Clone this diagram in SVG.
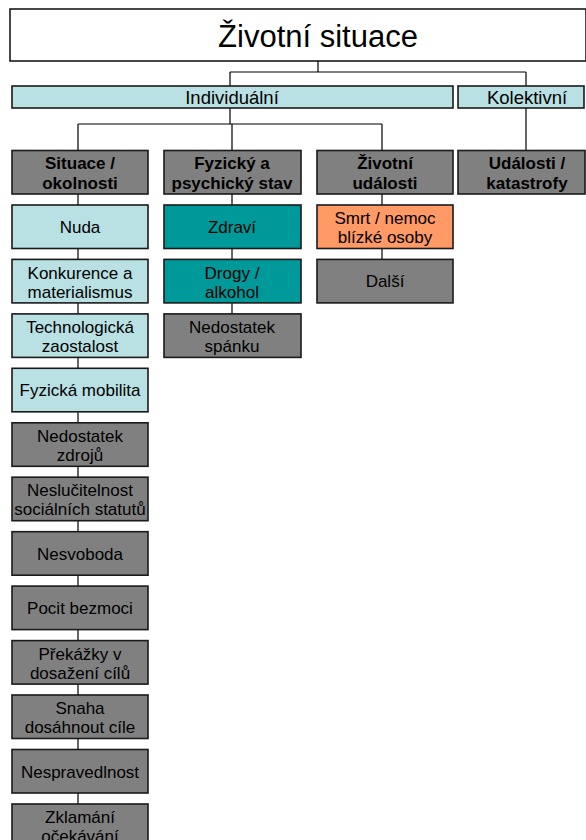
<svg xmlns="http://www.w3.org/2000/svg" width="586" height="840" viewBox="0 0 586 840">
  <style>
    .box { stroke: #1a1a1a; stroke-width: 1.6; }
    .white { fill: #ffffff; }
    .light { fill: #b9e0e2; }
    .gray { fill: #808080; }
    .teal { fill: #009999; }
    .orange { fill: #ff9966; }
    text { font-family: "Liberation Sans", Arial, sans-serif; fill: #000000; text-anchor: middle; }
    .t { font-size: 17px; }
    .b { font-size: 17px; font-weight: bold; }
    .m { font-size: 18.5px; }
    .big { font-size: 31px; }
    .lines { stroke: #000000; stroke-width: 1.2; fill: none; }
  </style>

  <!-- connectors -->
  <g id="connectors" class="lines">
    <path d="M318 61 V72 M230 72 H526 M230 72 V86 M526 72 V86"/>
    <path d="M230 108 V124 M78 124 H382 M78 124 V150 M232 124 V150 M382 124 V150"/>
    <path d="M526 108 V150"/>
    <!-- column 1 chain -->
    <path d="M78 194 V205 M78 248 V259 M78 303 V314 M78 357 V368 M78 412 V423 M78 466 V477 M78 521 V532 M78 575 V586 M78 630 V641 M78 684 V695 M78 739 V750 M78 793 V804"/>
    <!-- column 2 chain -->
    <path d="M232 194 V205 M232 248 V259 M232 303 V314"/>
    <!-- column 3 chain -->
    <path d="M382 194 V205 M382 248 V259"/>
  </g>

  <!-- root -->
  <g id="root">
    <rect class="box white" x="10" y="9" width="576" height="52"/>
    <text class="big" x="318" y="47">Životní situace</text>
  </g>

  <!-- second level -->
  <g id="individualni">
    <rect class="box light" x="12" y="86" width="441" height="22"/>
    <text class="m" x="232" y="104">Individuální</text>
  </g>
  <g id="kolektivni">
    <rect class="box light" x="458" y="86" width="126" height="22"/>
    <text class="m" x="527" y="104">Kolektivní</text>
  </g>

  <!-- headers -->
  <g id="situace">
    <rect class="box gray" x="12" y="150.5" width="136" height="43.5"/>
    <text class="b" x="80" y="169">Situace /</text>
    <text class="b" x="80" y="189">okolnosti</text>
  </g>
  <g id="fyzicky">
    <rect class="box gray" x="164" y="150.5" width="137" height="43.5"/>
    <text class="b" x="232" y="169">Fyzický a</text>
    <text class="b" x="232" y="189">psychický stav</text>
  </g>
  <g id="zivotni-udalosti">
    <rect class="box gray" x="317" y="150.5" width="136" height="43.5"/>
    <text class="b" x="385" y="169">Životní</text>
    <text class="b" x="385" y="189">události</text>
  </g>
  <g id="udalosti-katastrofy">
    <rect class="box gray" x="458" y="150.5" width="127" height="43.5"/>
    <text class="b" x="527" y="169">Události /</text>
    <text class="b" x="527" y="189">katastrofy</text>
  </g>

  <!-- column 1 -->
  <g id="nuda">
    <rect class="box light" x="12" y="205" width="136" height="43.5"/>
    <text class="t" x="80" y="233">Nuda</text>
  </g>
  <g id="konkurence">
    <rect class="box light" x="12" y="259.4" width="136" height="43.5"/>
    <text class="t" x="80" y="278.5">Konkurence a</text>
    <text class="t" x="80" y="297.5">materialismus</text>
  </g>
  <g id="technologicka">
    <rect class="box light" x="12" y="313.9" width="136" height="43.5"/>
    <text class="t" x="80" y="333">Technologická</text>
    <text class="t" x="80" y="352">zaostalost</text>
  </g>
  <g id="mobilita">
    <rect class="box light" x="12" y="368.3" width="136" height="43.5"/>
    <text class="t" x="80" y="396.3">Fyzická mobilita</text>
  </g>
  <g id="zdroje">
    <rect class="box gray" x="12" y="422.8" width="136" height="43.5"/>
    <text class="t" x="80" y="442">Nedostatek</text>
    <text class="t" x="80" y="461">zdrojů</text>
  </g>
  <g id="neslucitelnost">
    <rect class="box gray" x="12" y="477.2" width="136" height="43.5"/>
    <text class="t" x="80" y="496.4">Neslučitelnost</text>
    <text class="t" x="80" y="515.4">sociálních statutů</text>
  </g>
  <g id="nesvoboda">
    <rect class="box gray" x="12" y="531.7" width="136" height="43.5"/>
    <text class="t" x="80" y="559.7">Nesvoboda</text>
  </g>
  <g id="bezmoc">
    <rect class="box gray" x="12" y="586.1" width="136" height="43.5"/>
    <text class="t" x="80" y="614.1">Pocit bezmoci</text>
  </g>
  <g id="prekazky">
    <rect class="box gray" x="12" y="640.6" width="136" height="43.5"/>
    <text class="t" x="80" y="659.8">Překážky v</text>
    <text class="t" x="80" y="678.8">dosažení cílů</text>
  </g>
  <g id="snaha">
    <rect class="box gray" x="12" y="695" width="136" height="43.5"/>
    <text class="t" x="80" y="714.2">Snaha</text>
    <text class="t" x="80" y="733.2">dosáhnout cíle</text>
  </g>
  <g id="nespravedlnost">
    <rect class="box gray" x="12" y="749.5" width="136" height="43.5"/>
    <text class="t" x="80" y="777.5">Nespravedlnost</text>
  </g>
  <g id="zklamani">
    <rect class="box gray" x="12" y="804" width="136" height="43.5"/>
    <text class="t" x="80" y="823.2">Zklamání</text>
    <text class="t" x="80" y="842.2">očekávání</text>
  </g>

  <!-- column 2 -->
  <g id="zdravi">
    <rect class="box teal" x="164" y="205" width="137" height="43.5"/>
    <text class="t" x="232" y="233">Zdraví</text>
  </g>
  <g id="drogy">
    <rect class="box teal" x="164" y="259.4" width="137" height="43.5"/>
    <text class="t" x="232" y="278.5">Drogy /</text>
    <text class="t" x="232" y="297.5">alkohol</text>
  </g>
  <g id="spanek">
    <rect class="box gray" x="164" y="313.9" width="137" height="43.5"/>
    <text class="t" x="232" y="333">Nedostatek</text>
    <text class="t" x="232" y="352">spánku</text>
  </g>

  <!-- column 3 -->
  <g id="smrt">
    <rect class="box orange" x="317" y="205" width="136" height="43.5"/>
    <text class="t" x="385" y="224">Smrt / nemoc</text>
    <text class="t" x="385" y="243">blízké osoby</text>
  </g>
  <g id="dalsi">
    <rect class="box gray" x="317" y="259.4" width="136" height="43.5"/>
    <text class="t" x="385" y="287.4">Další</text>
  </g>
</svg>
